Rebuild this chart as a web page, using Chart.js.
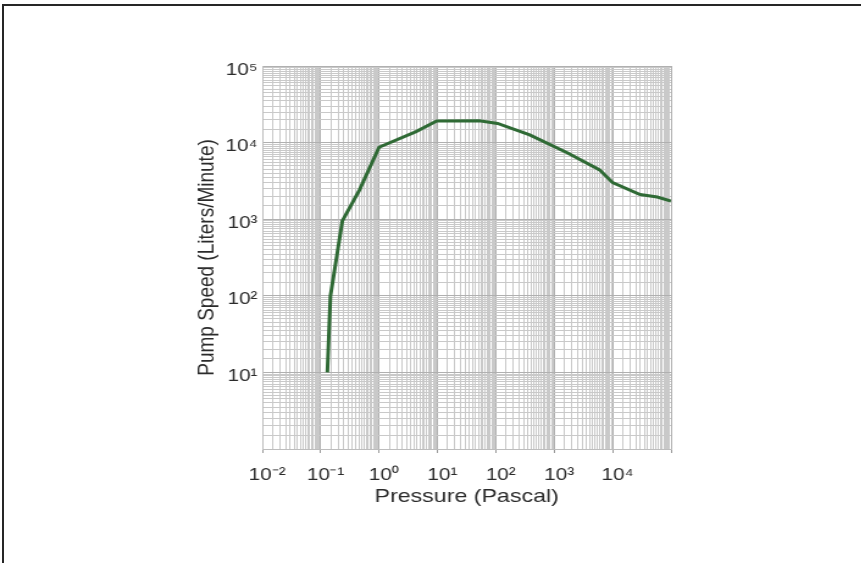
<!DOCTYPE html>
<html>
<head>
<meta charset="utf-8">
<script src="https://cdn.jsdelivr.net/npm/chart.js@4"></script>
<style>
  html, body { margin: 0; padding: 0; background: #fff; }
  body { width: 861px; height: 563px; overflow: hidden; position: relative; }
  #frame { position: absolute; left: 2px; top: 4px; right: 0; bottom: 0;
           border-top: 2px solid #262626; border-left: 2px solid #262626; }
  /* the reference is a bit wider than tall, so the chart is stretched sideways */
  #wrap { position: absolute; left: 0; top: 0; width: 706px; height: 563px;
          transform: scaleX(1.22); transform-origin: 0 0; }
</style>
</head>
<body>
<div id="frame"></div>
<div id="wrap"><canvas id="myChart"></canvas></div>
<script>
// pump curve
const pressure = [0.13, 0.147, 0.235, 0.46, 1.0, 4.3, 9.7, 52, 107, 380, 1700, 6000, 10000, 29500, 58000, 100000];
const speed    = [10,   100,   950,   2400, 8700, 13900, 19100, 19300, 17800, 12600, 7300, 4400, 3000, 2100, 1950, 1730];

// decades that get a label
const xDecades = [-2, -1, 0, 1, 2, 3, 4];
const yDecades = [1, 2, 3, 4, 5];
const supers = {'-': '\u207B', '0': '\u2070', '1': '\u00B9', '2': '\u00B2', '3': '\u00B3',
                '4': '\u2074', '5': '\u2075', '6': '\u2076', '7': '\u2077', '8': '\u2078', '9': '\u2079'};
// grid subdivisions inside one decade
const steps = [1, 1.5, 2, 2.5, 3, 3.5, 4, 4.5, 5, 5.5, 6, 6.5, 7, 7.5, 8, 8.5, 9, 9.5];

const isDecade = v => Math.abs(Math.log10(v) - Math.round(Math.log10(v))) < 1e-9;
const expLabel = e => '10' + String(e).split('').map(c => supers[c]).join('');

let gridTicks = function(lo, hi){
  let t = [];
  for (let d = lo; d < hi; d++) {
    steps.forEach(m => t.push({value: m * Math.pow(10, d)}));
  }
  t.push({value: Math.pow(10, hi)});
  return t;
};

const points = pressure.map((p, i) => ({x: p, y: speed[i]}));
const txt = '#2b2b2b';

new Chart(document.getElementById('myChart'), {
  type: 'line',
  data: {
    datasets: [{
      data: points,
      borderColor: '#2f6a35',
      borderWidth: 3,
      pointRadius: 0,
      tension: 0,
      fill: false
    }]
  },
  options: {
    responsive: true,
    maintainAspectRatio: false,
    animation: false,
    layout: { padding: { left: 158, top: 66, right: 156, bottom: 55 } },
    plugins: { legend: { display: false }, tooltip: { enabled: false } },
    scales: {
      x: {
        type: 'logarithmic',
        min: 0.01,
        max: 100000,
        afterBuildTicks: s => { s.ticks = gridTicks(-2, 5); },
        afterFit: s => { s.height = 59; },
        grid: {
          color: ctx => isDecade(ctx.tick.value) ? '#b0b0b0' : '#c9c9c9',
          tickColor: ctx => isDecade(ctx.tick.value) ? '#999' : 'rgba(0,0,0,0)',
          tickLength: 4
        },
        border: { color: '#bdbdbd' },
        ticks: {
          autoSkip: false,
          maxRotation: 0,
          padding: 12,
          labelOffset: 4,
          color: txt,
          font: { family: 'Liberation Sans', size: 17 },
          callback: v => {
            let e = Math.round(Math.log10(v));
            return (isDecade(v) && xDecades.includes(e)) ? expLabel(e) : '';
          }
        },
        title: {
          display: true,
          text: 'Pressure (Pascal)',
          color: txt,
          padding: 0,
          font: { family: 'Liberation Sans', size: 19 }
        }
      },
      y: {
        type: 'logarithmic',
        min: 1,
        max: 100000,
        afterBuildTicks: s => { s.ticks = gridTicks(0, 5); },
        afterFit: s => { s.width = 57; },
        grid: {
          color: ctx => isDecade(ctx.tick.value) ? '#b0b0b0' : '#c9c9c9',
          drawTicks: false
        },
        border: { color: '#bdbdbd' },
        ticks: {
          autoSkip: false,
          padding: 4,
          labelOffset: 4,
          color: txt,
          font: { family: 'Liberation Sans', size: 17 },
          callback: v => {
            let e = Math.round(Math.log10(v));
            return (isDecade(v) && yDecades.includes(e)) ? expLabel(e) : '';
          }
        },
        title: {
          display: true,
          text: 'Pump Speed (Liters/Minute)',
          color: txt,
          padding: 0,
          font: { family: 'Liberation Sans', size: 19 }
        }
      }
    }
  }
});
</script>
</body>
</html>
